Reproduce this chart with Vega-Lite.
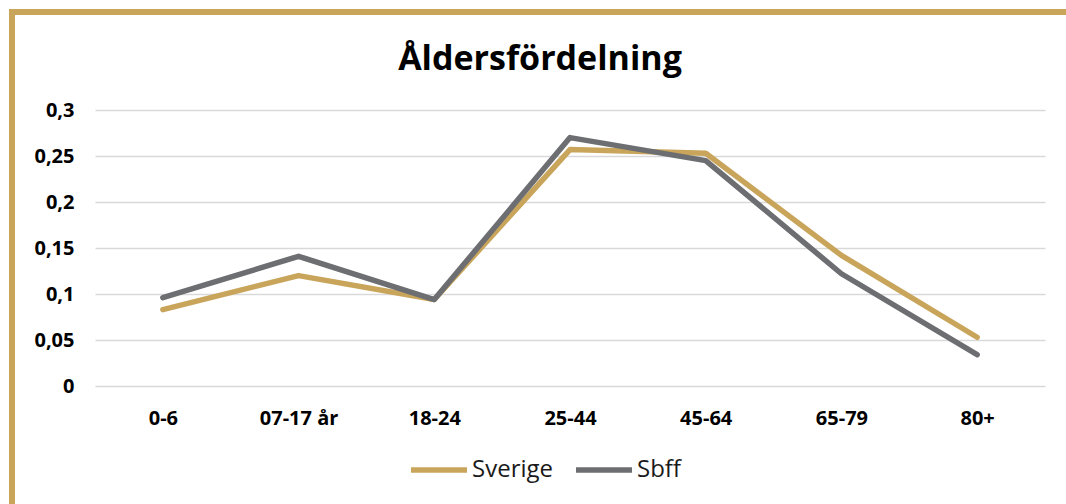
{
  "$schema": "https://vega.github.io/schema/vega-lite/v6.json",
  "padding": {"left": 9, "top": 9, "right": 0, "bottom": 0},
  "background": "white",
  "config": {"font": "Open Sans"},
  "columns": 2,
  "align": "none",
  "spacing": 0,
  "resolve": {"scale": {"color": "independent"}, "legend": {"color": "independent"}},
  "datasets": {
    "ages": [
      {"age": "0-6", "serie": "Sverige", "value": 0.083},
      {"age": "07-17 år", "serie": "Sverige", "value": 0.12},
      {"age": "18-24", "serie": "Sverige", "value": 0.094},
      {"age": "25-44", "serie": "Sverige", "value": 0.257},
      {"age": "45-64", "serie": "Sverige", "value": 0.253},
      {"age": "65-79", "serie": "Sverige", "value": 0.142},
      {"age": "80+", "serie": "Sverige", "value": 0.053},
      {"age": "0-6", "serie": "Sbff", "value": 0.096},
      {"age": "07-17 år", "serie": "Sbff", "value": 0.141},
      {"age": "18-24", "serie": "Sbff", "value": 0.094},
      {"age": "25-44", "serie": "Sbff", "value": 0.27},
      {"age": "45-64", "serie": "Sbff", "value": 0.245},
      {"age": "65-79", "serie": "Sbff", "value": 0.122},
      {"age": "80+", "serie": "Sbff", "value": 0.034}
    ],
    "blank": [{}]
  },
  "concat": [
    {
      "width": 6,
      "height": 34,
      "view": {"fill": "#C8A55A", "stroke": null},
      "data": {"name": "blank"},
      "mark": {"type": "point", "opacity": 0, "size": 0},
      "encoding": {}
    },
    {
      "width": 1051,
      "height": 6,
      "view": {"fill": "#C8A55A", "stroke": null},
      "data": {"name": "blank"},
      "mark": {"type": "point", "opacity": 0, "size": 0},
      "encoding": {}
    },
    {
      "width": 6,
      "height": 461,
      "view": {"fill": "#C8A55A", "stroke": null},
      "data": {"name": "blank"},
      "mark": {"type": "point", "opacity": 0, "size": 0},
      "encoding": {}
    },
    {
      "width": 950,
      "height": 276,
      "view": {"stroke": null},
      "title": {
        "text": "Åldersfördelning",
        "fontSize": 34,
        "fontWeight": "bold",
        "color": "#000000",
        "offset": 23,
        "dx": -30
      },
      "data": {"name": "ages"},
      "encoding": {
        "x": {
          "field": "age",
          "type": "ordinal",
          "sort": ["0-6", "07-17 år", "18-24", "25-44", "45-64", "65-79", "80+"],
          "axis": {
            "title": null,
            "labelAngle": 0,
            "domain": false,
            "ticks": false,
            "labelPadding": 22,
            "labelFontSize": 20,
            "labelFontWeight": "bold",
            "labelColor": "#000000"
          }
        },
        "y": {
          "field": "value",
          "type": "quantitative",
          "scale": {"domain": [0, 0.3]},
          "axis": {
            "title": null,
            "values": [0, 0.05, 0.1, 0.15, 0.2, 0.25, 0.3],
            "labelExpr": "replace(format(datum.value, '.2~f'), '.', ',')",
            "domain": false,
            "ticks": false,
            "labelPadding": 21,
            "minExtent": 80,
            "maxExtent": 80,
            "labelFontSize": 20,
            "labelFontWeight": "bold",
            "labelColor": "#000000",
            "gridColor": "#D9D9D9",
            "gridWidth": 1.5
          }
        },
        "color": {
          "field": "serie",
          "type": "nominal",
          "scale": {"domain": ["Sverige", "Sbff"], "range": ["#C8A55A", "#6D6E71"]},
          "legend": {
            "title": null,
            "orient": "none",
            "legendX": 313,
            "legendY": 329,
            "direction": "horizontal",
            "symbolType": "stroke",
            "symbolSize": 3136,
            "symbolStrokeWidth": 5.5,
            "labelFontSize": 24,
            "labelColor": "#1a1a1a",
            "labelOffset": 2,
            "columnPadding": 12
          }
        }
      },
      "layer": [
        {
          "transform": [{"filter": "datum.serie === 'Sverige'"}],
          "mark": {"type": "line", "strokeWidth": 5.5, "strokeCap": "round", "strokeJoin": "round"}
        },
        {
          "transform": [{"filter": "datum.serie === 'Sbff'"}],
          "mark": {"type": "line", "strokeWidth": 5.5, "strokeCap": "round", "strokeJoin": "round"}
        }
      ]
    }
  ]
}
